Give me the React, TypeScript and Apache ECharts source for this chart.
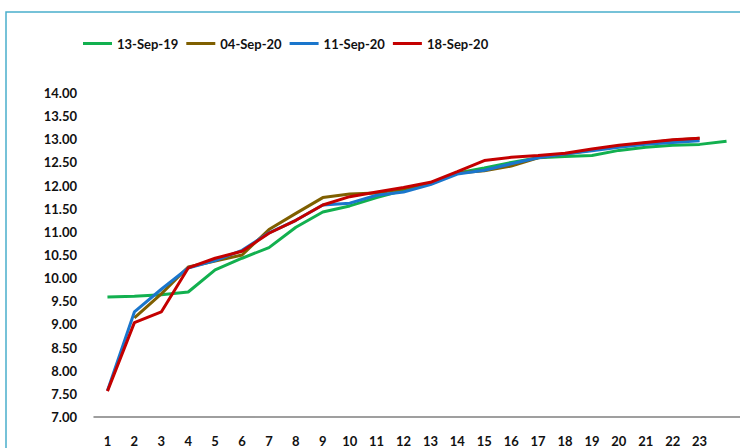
import React, { useEffect, useRef } from "react";
import * as echarts from "echarts";

const categories = ["1","2","3","4","5","6","7","8","9","10","11","12","13","14","15","16","17","18","19","20","21","22","23",""];
const seriesNames = ["13-Sep-19", "04-Sep-20", "11-Sep-20", "18-Sep-20"];
const sep19 = [9.59, 9.61, 9.64, 9.70, 10.18, 10.43, 10.66, 11.10, 11.43, 11.56, 11.74, 11.90, 12.05, 12.27, 12.38, 12.50, 12.60, 12.63, 12.65, 12.76, 12.83, 12.87, 12.89, 12.96];
const sep04 = [null, 9.14, 9.66, 10.24, 10.37, 10.50, 11.05, 11.40, 11.74, 11.82, 11.84, 11.93, 12.05, 12.27, 12.32, 12.42, 12.60, 12.68, 12.77, 12.85, 12.92, 12.98, 13.02];
const sep11 = [7.57, 9.27, 9.76, 10.22, 10.38, 10.60, 10.98, 11.25, 11.58, 11.62, 11.79, 11.86, 12.02, 12.25, 12.33, 12.47, 12.60, 12.68, 12.75, 12.83, 12.89, 12.93, 12.97];
const sep18 = [7.56, 9.04, 9.27, 10.22, 10.43, 10.58, 10.97, 11.25, 11.58, 11.76, 11.86, 11.96, 12.07, 12.30, 12.54, 12.61, 12.65, 12.70, 12.79, 12.87, 12.93, 12.99, 13.02];
const colors = ["#12b04f", "#7f5f00", "#1a76cc", "#c40000"];

export default function App() {
  const ref = useRef<HTMLDivElement>(null);
  useEffect(() => {
    if (!ref.current) return;
    const chart = echarts.init(ref.current, null, { renderer: "svg" });
    const font = "Lato, 'Open Sans', sans-serif";
    const data = [sep19, sep04, sep11, sep18];
    chart.setOption({
      animation: false,
      backgroundColor: "#ffffff",
      graphic: [
        {
          type: "rect",
          shape: { x: 6, y: 12, width: 900, height: 600 },
          style: { fill: "none", stroke: "#4aafcc", lineWidth: 1.5 },
          silent: true,
        },
      ],
      legend: {
        top: 32,
        left: 78,
        itemWidth: 29,
        itemHeight: 3,
        itemGap: 8,
        icon: "rect",
        textStyle: { fontFamily: font, fontSize: 13, fontWeight: "bold", color: "#111" },
        data: seriesNames,
      },
      grid: { left: 94, right: 0, top: 93, bottom: 31, containLabel: false },
      xAxis: {
        type: "category",
        data: categories,
        boundaryGap: true,
        axisLine: { show: true, lineStyle: { color: "#7f7f7f", width: 1.5 } },
        axisTick: { show: false },
        axisLabel: { interval: 0, margin: 17, fontFamily: font, fontSize: 13, fontWeight: "bold", color: "#111" },
        splitLine: { show: false },
      },
      yAxis: {
        type: "value",
        min: 7,
        max: 14,
        interval: 0.5,
        axisLine: { show: false },
        axisTick: { show: false },
        splitLine: { show: false },
        axisLabel: {
          margin: 17,
          fontFamily: font,
          fontSize: 13,
          fontWeight: "bold",
          color: "#111",
          formatter: (v: number) => v.toFixed(2),
        },
      },
      series: seriesNames.map((name, i) => ({
        name,
        type: "line",
        data: data[i],
        symbol: "none",
        connectNulls: false,
        color: colors[i],
        lineStyle: { width: 3, color: colors[i] },
        z: 2 + i,
      })),
    });
    return () => chart.dispose();
  }, []);
  return <div ref={ref} style={{ position: "fixed", left: 0, top: 0, width: 740, height: 448 }} />;
}
